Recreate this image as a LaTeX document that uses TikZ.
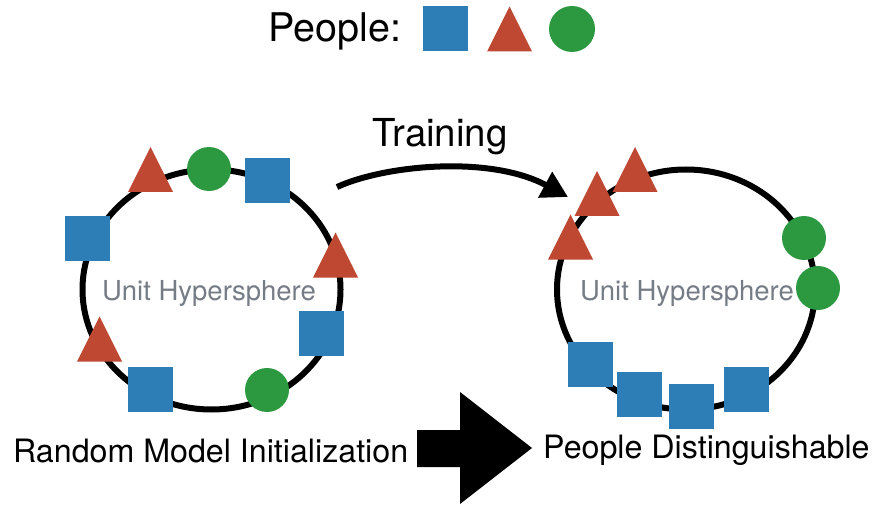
\documentclass[tikz,border=0pt]{standalone}
\usepackage{fontspec}
\setmainfont{TeX Gyre Heros}
\usetikzlibrary{arrows.meta,shapes.geometric}
\definecolor{pblue}{RGB}{45,126,182}
\definecolor{pred}{RGB}{190,72,50}
\definecolor{pgreen}{RGB}{44,153,64}
\definecolor{hgray}{RGB}{118,124,134}
\begin{document}
\begin{tikzpicture}[x=1pt,y=-1pt,
  sq/.style={fill=pblue, minimum size=45pt, inner sep=0pt, draw=none},
  tri/.style={minimum size=45pt, inner sep=0pt, draw=none,
    path picture={\fill[pred] (path picture bounding box.south west) -- (path picture bounding box.south east) -- (path picture bounding box.north) -- cycle;}},
  circ/.style={circle, fill=pgreen, minimum size=44pt, inner sep=0pt, draw=none},
  sphere/.style={ellipse, draw=black, line width=6pt, minimum width=258pt, minimum height=240pt, inner sep=0pt},
  lbl/.style={inner sep=0pt, anchor=base west, text=black},
  hyp/.style={inner sep=0pt, anchor=base west, text=hgray, font=\fontsize{27.5}{30}\selectfont}
]
\useasboundingbox (0,0) rectangle (878,505);

% legend
\node[lbl, font=\fontsize{39.5}{42}\selectfont] (people) at (268,42) {People:};
\node[sq] (legsq) at (445.5,29) {};
\node[tri] (legtri) at (509.5,29) {};
\node[circ, minimum size=46pt] (legcirc) at (572,29) {};

% spheres
\node[sphere] (lsphere) at (211.5,289.5) {};
\node[sphere] (rsphere) at (686,289.5) {};
\node[hyp] (lhyp) at (102,300) {Unit Hypersphere};
\node[hyp] (rhyp) at (580,300) {Unit Hypersphere};

% left shapes
\node[tri] (lt1) at (150.5,169.5) {};
\node[tri] (lt2) at (335.5,255) {};
\node[tri] (lt3) at (99.5,339) {};
\node[sq] (ls1) at (267.5,180.5) {};
\node[sq] (ls2) at (87.5,238.5) {};
\node[sq] (ls3) at (321,333.5) {};
\node[sq] (ls4) at (150.5,389.5) {};
\node[circ] (lc1) at (209,169) {};
\node[circ] (lc2) at (267,390) {};

% right shapes
\node[tri] (rt1) at (635,169.5) {};
\node[tri] (rt2) at (597,193.5) {};
\node[tri] (rt3) at (570.5,237) {};
\node[sq] (rs1) at (590.5,364.5) {};
\node[sq] (rs2) at (639.5,394) {};
\node[sq] (rs3) at (691.5,406.5) {};
\node[sq] (rs4) at (746,389.5) {};
\node[circ] (rc1) at (804,238) {};
\node[circ] (rc2) at (818,288) {};

% training arrow
\node[inner sep=0pt, anchor=base, font=\fontsize{38.5}{40}\selectfont] (training) at (440,147) {Training};
\coordinate (ts) at (337,187);
\coordinate (te) at (568,197);
\draw[line width=6pt, -{Triangle[length=26pt,width=28pt]}] (ts) .. controls (385,165) and (490,155) .. (te);

% bottom labels
\node[lbl, font=\fontsize{32.2}{34}\selectfont] (rmi) at (13,462) {Random Model Initialization};
\node[lbl, font=\fontsize{32.2}{34}\selectfont] (pd) at (543,458) {People Distinguishable};

% big arrow
\fill[black] (417,430) -- (460,430) -- (460,392) -- (532,448) -- (460,504) -- (460,467) -- (417,467) -- cycle;
\end{tikzpicture}
\end{document}
